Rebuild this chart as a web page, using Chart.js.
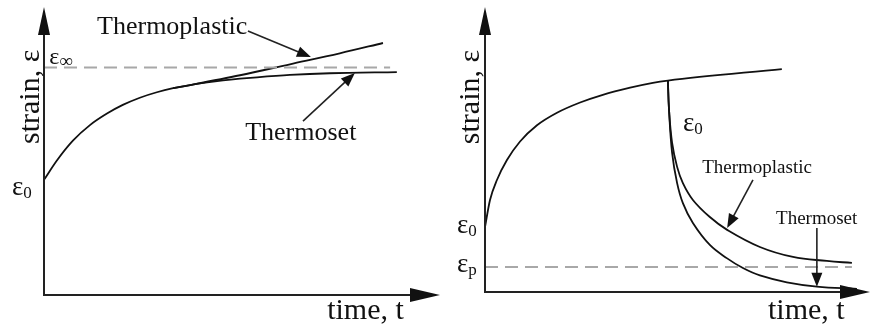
<!DOCTYPE html>
<html>
<head>
<meta charset="utf-8">
<script src="https://cdn.jsdelivr.net/npm/chart.js@4.4.0/dist/chart.umd.min.js"></script>
<style>
    body { margin: 0; background: #fff; }
    canvas { position: absolute; top: 0; }
    #creepChart { left: 0; }
    #recoveryChart { left: 440px; }
</style>
</head>
<body>
<canvas id="creepChart" width="450" height="328"></canvas>
<canvas id="recoveryChart" width="437" height="328"></canvas>
<script>
// creep under constant load (left)
var creepTime = [0, 3.3, 7.3, 11.6, 15.9, 19.9, 24.2, 28.5, 32.6, 36.9, 41.2, 45.2, 49.5, 53.8, 62.1, 72.2, 89.1];
var creepThermoset = [40, 46.8, 53.6, 59.0, 63.0, 66.0, 68.5, 70.4, 71.8, 72.9, 73.8, 74.5, 75.1, 75.6, 76.4, 77.0, 77.4];
var creepPlasticTime = [32.6, 36.9, 49.5, 62.1, 74.7, 85.6];
var creepThermoplastic = [71.8, 72.9, 76.3, 80.1, 83.9, 87.5];
var strainLimit = 79.0;      // ε∞
var strainLimitEnd = 87.4;

// creep then recovery after unloading (right)
var loadTime = [0, 1.3, 3.1, 5.7, 9.1, 13.5, 18.7, 24.7, 30.6, 37.7, 43.6, 47.5, 77.1];
var loadStrain = [22.8, 32.3, 39.3, 46.3, 52.8, 58.5, 62.9, 66.5, 69.2, 71.7, 73.4, 74.2, 78.2];
var plasticRecTime = [47.5, 47.8, 48.6, 49.9, 51.4, 54.0, 58.4, 62.9, 71.4, 80.0, 88.8, 95.3];
var plasticRecStrain = [74.2, 63.9, 52.3, 43.9, 38.2, 32.3, 26.3, 21.8, 15.8, 12.3, 10.9, 10.2];
var setRecTime = [47.5, 47.8, 48.6, 49.9, 51.4, 54.0, 58.4, 62.9, 67.0, 71.4, 78.4, 86.2, 96.6];
var setRecStrain = [74.2, 63.9, 48.8, 38.2, 31.2, 24.2, 16.5, 11.8, 8.4, 5.8, 3.4, 1.9, 1.1];
var strainPermanent = 8.8;   // εp
var strainPermanentEnd = 95.3;

var SERIF = '"Liberation Serif", "Times New Roman", serif';

function toPoints(xs, ys) {
    return xs.map(function (x, i) { return { x: x, y: ys[i] }; });
}

// monotone for y(t) curves, plain spline for the steep recovery drops
function curve(xs, ys, spline) {
    return {
        data: toPoints(xs, ys),
        showLine: true,
        borderColor: '#111',
        borderWidth: 1.8,
        pointRadius: 0,
        cubicInterpolationMode: spline ? 'default' : 'monotone',
        tension: 0.4,
        clip: false
    };
}

function dashed(level, end) {
    return {
        data: [{ x: 0, y: level }, { x: end, y: level }],
        showLine: true,
        borderColor: '#a8a8a8',
        borderWidth: 2,
        borderDash: [13, 7],
        pointRadius: 0,
        clip: false
    };
}

// filled triangular head, tip at (x, y) pointing along (dx, dy)
function arrowHead(ctx, x, y, dx, dy, len, half) {
    var n = Math.sqrt(dx * dx + dy * dy);
    dx /= n; dy /= n;
    var bx = x - dx * len, by = y - dy * len;
    ctx.beginPath();
    ctx.moveTo(x, y);
    ctx.lineTo(bx - dy * half, by + dx * half);
    ctx.lineTo(bx + dy * half, by - dx * half);
    ctx.closePath();
    ctx.fill();
}

// axes with arrows, labels and pointer arrows
var diagramPlugin = {
    id: 'diagram',
    afterDatasetsDraw: function (chart, args, opts) {
        var ctx = chart.ctx;
        var sx = chart.scales.x, sy = chart.scales.y;
        var px = function (v) { return sx.getPixelForValue(v); };
        var py = function (v) { return sy.getPixelForValue(v); };
        var x0 = px(0), y0 = py(0);
        var xEnd = px(sx.max), yEnd = py(sy.max);

        ctx.save();
        ctx.strokeStyle = '#222';
        ctx.fillStyle = '#111';
        ctx.lineWidth = 2;
        ctx.beginPath();
        ctx.moveTo(x0, yEnd + 20);
        ctx.lineTo(x0, y0);
        ctx.lineTo(xEnd - 20, y0);
        ctx.stroke();
        arrowHead(ctx, x0, yEnd, 0, -1, 28, 6);
        arrowHead(ctx, xEnd, y0, 1, 0, 30, 7);

        ctx.lineWidth = 1.6;
        (opts.arrows || []).forEach(function (a) {
            var x1 = px(a.from[0]), y1 = py(a.from[1]);
            var x2 = px(a.to[0]), y2 = py(a.to[1]);
            var d = Math.sqrt((x2 - x1) * (x2 - x1) + (y2 - y1) * (y2 - y1));
            var k = (d - 12) / d;
            ctx.beginPath();
            ctx.moveTo(x1, y1);
            ctx.lineTo(x1 + (x2 - x1) * k, y1 + (y2 - y1) * k);
            ctx.stroke();
            arrowHead(ctx, x2, y2, x2 - x1, y2 - y1, 14, 5.5);
        });

        ctx.textBaseline = 'alphabetic';
        (opts.labels || []).forEach(function (l) {
            var x = px(l.at[0]), y = py(l.at[1]);
            ctx.font = l.size + 'px ' + SERIF;
            if (l.rotate) {
                ctx.save();
                ctx.translate(x, y);
                ctx.rotate(-Math.PI / 2);
                ctx.textAlign = 'center';
                ctx.textBaseline = 'middle';
                ctx.fillText(l.text, 0, 0);
                ctx.restore();
                return;
            }
            ctx.textAlign = 'left';
            ctx.fillText(l.text, x, y);
            if (l.sub) {
                var w = ctx.measureText(l.text).width;
                ctx.font = l.subSize + 'px ' + SERIF;
                ctx.fillText(l.sub, x + w, y + 3);
            }
        });
        ctx.restore();
    }
};

function makeChart(id, datasets, padding, diagram) {
    return new Chart(document.getElementById(id), {
        type: 'scatter',
        data: { datasets: datasets },
        options: {
            responsive: false,
            animation: false,
            events: [],
            layout: { padding: padding },
            scales: {
                x: { type: 'linear', min: 0, max: 100, display: false },
                y: { type: 'linear', min: 0, max: 100, display: false }
            },
            plugins: {
                legend: { display: false },
                tooltip: { enabled: false },
                diagram: diagram
            }
        },
        plugins: [diagramPlugin]
    });
}

makeChart('creepChart', [
    dashed(strainLimit, strainLimitEnd),
    curve(creepTime, creepThermoset),
    curve(creepPlasticTime, creepThermoplastic)
], { left: 44, right: 10, top: 7, bottom: 33 }, {
    arrows: [
        { from: [51.5, 91.7], to: [67.4, 82.6] },
        { from: [65.4, 60.4], to: [78.5, 77.1] }
    ],
    labels: [
        { text: 'Thermoplastic', at: [13.4, 90.6], size: 26 },
        { text: 'Thermoset', at: [50.8, 53.8], size: 26 },
        { text: 'ε', sub: '∞', at: [1.3, 80.2], size: 24, subSize: 19 },
        { text: 'ε', sub: '0', at: [-8.1, 34.7], size: 27, subSize: 17 },
        { text: 'strain, ε', at: [-3.3, 68.8], size: 30, rotate: true },
        { text: 'time, t', at: [71.5, -8.3], size: 30 }
    ]
});

makeChart('recoveryChart', [
    dashed(strainPermanent, strainPermanentEnd),
    curve(loadTime, loadStrain),
    curve(plasticRecTime, plasticRecStrain, true),
    curve(setRecTime, setRecStrain, true)
], { left: 45, right: 7, top: 7, bottom: 36 }, {
    arrows: [
        { from: [69.6, 39.3], to: [62.9, 22.5] },
        { from: [86.2, 22.5], to: [86.2, 1.8] }
    ],
    labels: [
        { text: 'ε', sub: '0', at: [51.4, 56.5], size: 27, subSize: 17 },
        { text: 'Thermoplastic', at: [56.4, 41.8], size: 19 },
        { text: 'Thermoset', at: [75.6, 23.9], size: 19 },
        { text: 'ε', sub: '0', at: [-7.3, 20.7], size: 27, subSize: 17 },
        { text: 'ε', sub: 'p', at: [-7.3, 7.0], size: 27, subSize: 17 },
        { text: 'strain, ε', at: [-3.6, 68.4], size: 30, rotate: true },
        { text: 'time, t', at: [73.5, -9.5], size: 30 }
    ]
});
</script>
</body>
</html>
